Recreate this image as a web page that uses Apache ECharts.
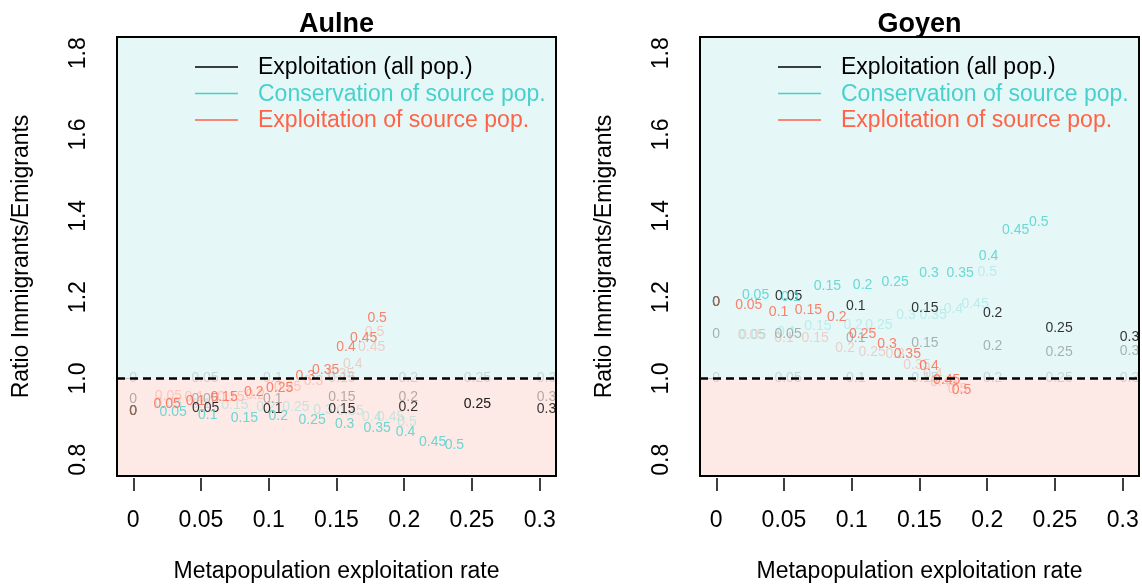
<!DOCTYPE html>
<html>
<head>
<meta charset="utf-8">
<script src="https://cdn.jsdelivr.net/npm/echarts@6/dist/echarts.min.js"></script>
<style>html,body{margin:0;padding:0;background:#fff}#c{width:1142px;height:588px}</style>
</head>
<body>
<div id="c"></div>
<script>
// ---- labels ----
const rateLabels = ['0', '0.05', '0.1', '0.15', '0.2', '0.25', '0.3'];
const sourceLabels = ['0', '0.05', '0.1', '0.15', '0.2', '0.25', '0.3', '0.35', '0.4', '0.45', '0.5'];
const sourceLabelsNoZero = ['0.05', '0.1', '0.15', '0.2', '0.25', '0.3', '0.35', '0.4', '0.45', '0.5'];
const xTicks = [0, 0.05, 0.1, 0.15, 0.2, 0.25, 0.3];
const xTickLabels = ['0', '0.05', '0.1', '0.15', '0.2', '0.25', '0.3'];
const yTicks = [0.8, 1.0, 1.2, 1.4, 1.6, 1.8];
const yTickLabels = ['0.8', '1.0', '1.2', '1.4', '1.6', '1.8'];
const panelTitles = ['Aulne', 'Goyen'];
const legendLabels = ['Exploitation (all pop.)', 'Conservation of source pop.', 'Exploitation of source pop.'];

// ---- Aulne ----
const aulneAllX  = [0, 0.0535, 0.103, 0.154, 0.203, 0.254, 0.305];
const aulneAllY  = [0.920, 0.926, 0.924, 0.924, 0.929, 0.936, 0.924];
const aulneAllBX = [0, 0.053, 0.103, 0.154, 0.203, 0.254, 0.305];
const aulneAllBY = [0.948, 0.950, 0.948, 0.953, 0.953, 0.938, 0.953];
const aulneAllCX = [0, 0.053, 0.103, 0.154, 0.203, 0.254, 0.305];
const aulneAllCY = [1.0, 1.0, 1.0, 1.0, 1.0, 1.0, 1.0];
const aulneConsX  = [0, 0.0295, 0.055, 0.082, 0.107, 0.132, 0.156, 0.180, 0.201, 0.221, 0.237];
const aulneConsY  = [0.920, 0.916, 0.910, 0.902, 0.907, 0.897, 0.887, 0.877, 0.867, 0.843, 0.835];
const aulneConsBX = [0.026, 0.050, 0.075, 0.098, 0.120, 0.140, 0.160, 0.176, 0.190, 0.202];
const aulneConsBY = [0.940, 0.937, 0.934, 0.929, 0.929, 0.921, 0.919, 0.904, 0.904, 0.893];
const aulneExplX  = [0, 0.025, 0.046, 0.067, 0.089, 0.108, 0.127, 0.142, 0.157, 0.170, 0.180];
const aulneExplY  = [0.920, 0.938, 0.943, 0.953, 0.966, 0.975, 1.005, 1.020, 1.076, 1.100, 1.148];
const aulneExplBX = [0.026, 0.045, 0.072, 0.090, 0.114, 0.133, 0.153, 0.162, 0.176, 0.178];
const aulneExplBY = [0.956, 0.955, 0.955, 0.960, 0.978, 0.993, 1.010, 1.034, 1.076, 1.115];

// ---- Goyen ----
const goyenAllX  = [0, 0.0535, 0.103, 0.154, 0.204, 0.253, 0.305];
const goyenAllY  = [1.188, 1.202, 1.177, 1.172, 1.160, 1.123, 1.101];
const goyenAllBX = [0, 0.053, 0.103, 0.154, 0.204, 0.253, 0.305];
const goyenAllBY = [1.108, 1.108, 1.100, 1.086, 1.080, 1.064, 1.066];
const goyenAllCX = [0, 0.053, 0.103, 0.154, 0.204, 0.253, 0.305];
const goyenAllCY = [1.0, 1.0, 1.0, 1.0, 1.0, 1.0, 1.0];
const goyenConsX  = [0, 0.029, 0.055, 0.082, 0.108, 0.132, 0.157, 0.180, 0.201, 0.221, 0.238];
const goyenConsY  = [1.188, 1.204, 1.200, 1.226, 1.229, 1.238, 1.258, 1.258, 1.301, 1.365, 1.384];
const goyenConsBX = [0.027, 0.052, 0.075, 0.101, 0.120, 0.140, 0.160, 0.175, 0.191, 0.200];
const goyenConsBY = [1.106, 1.115, 1.129, 1.130, 1.130, 1.155, 1.155, 1.170, 1.184, 1.261];
const goyenExplX  = [0, 0.024, 0.046, 0.068, 0.089, 0.108, 0.126, 0.141, 0.157, 0.170, 0.181];
const goyenExplY  = [1.188, 1.180, 1.162, 1.168, 1.152, 1.110, 1.084, 1.059, 1.030, 0.995, 0.971];
const goyenExplBX = [0.026, 0.050, 0.073, 0.095, 0.115, 0.132, 0.148, 0.160, 0.168, 0.178];
const goyenExplBY = [1.106, 1.098, 1.098, 1.074, 1.064, 1.059, 1.032, 1.010, 0.990, 0.973];

// ---- style ----
const FONT = '"Liberation Sans", Arial, Helvetica, sans-serif';
const C_BLACK = '#000000';
const C_GRAY_MID = 'rgba(0,0,0,0.36)';
const C_GRAY_LIGHT = 'rgba(0,0,0,0.17)';
const C_CYAN = '#48D1CC';
const C_CYAN_LIGHT = 'rgba(72,209,204,0.35)';
const C_RED = '#FF6347';
const C_RED_LIGHT = 'rgba(255,99,71,0.35)';
const C_ZERO = '#B5503C';
const BG_TOP = '#E6F7F7';
const BG_BOT = '#FDE9E6';

const grids = [
  { left: 117, top: 37, width: 439, height: 439 },
  { left: 700, top: 37, width: 439, height: 439 }
];

function pts(xs, ys, labels) { return xs.map((x, i) => [x, ys[i], labels[i]]); }

function textSeries(gi, data, color) {
  return {
    type: 'scatter', xAxisIndex: gi, yAxisIndex: gi, data: data,
    symbolSize: 1, itemStyle: { color: 'rgba(0,0,0,0)' },
    silent: true, animation: false, z: 3,
    label: {
      show: true, position: 'inside',
      formatter: p => p.value[2],
      fontSize: 14, fontFamily: FONT,
      color: color
    }
  };
}

const panels = [
  { all: pts(aulneAllX, aulneAllY, rateLabels), allB: pts(aulneAllBX, aulneAllBY, rateLabels), allC: pts(aulneAllCX, aulneAllCY, rateLabels),
    cons: pts(aulneConsX, aulneConsY, sourceLabels), consB: pts(aulneConsBX, aulneConsBY, sourceLabelsNoZero),
    expl: pts(aulneExplX, aulneExplY, sourceLabels), explB: pts(aulneExplBX, aulneExplBY, sourceLabelsNoZero) },
  { all: pts(goyenAllX, goyenAllY, rateLabels), allB: pts(goyenAllBX, goyenAllBY, rateLabels), allC: pts(goyenAllCX, goyenAllCY, rateLabels),
    cons: pts(goyenConsX, goyenConsY, sourceLabels), consB: pts(goyenConsBX, goyenConsBY, sourceLabelsNoZero),
    expl: pts(goyenExplX, goyenExplY, sourceLabels), explB: pts(goyenExplBX, goyenExplBY, sourceLabelsNoZero) }
];

const xAxes = [], yAxes = [], series = [], graphics = [];
grids.forEach((g, gi) => {
  xAxes.push({
    gridIndex: gi, type: 'value', min: -0.012, max: 0.312, offset: 2,
    axisLine: { show: false }, splitLine: { show: false },
    axisTick: { show: true, customValues: xTicks, length: 13, lineStyle: { color: '#000', width: 1.5 } },
    axisLabel: { customValues: xTicks, formatter: v => xTickLabels[xTicks.findIndex(t => Math.abs(t - v) < 1e-9)],
      fontSize: 23, fontFamily: FONT, color: '#000', margin: 31 },
    name: 'Metapopulation exploitation rate', nameLocation: 'middle', nameGap: 82,
    nameTextStyle: { fontSize: 23, fontFamily: FONT, color: '#000' }
  });
  yAxes.push({
    gridIndex: gi, type: 'value', min: 0.76, max: 1.84,
    axisLine: { show: false }, splitLine: { show: false },
    axisTick: { show: true, customValues: yTicks, length: 14, lineStyle: { color: '#000', width: 1.5 } },
    axisLabel: { customValues: yTicks, formatter: v => yTickLabels[yTicks.findIndex(t => Math.abs(t - v) < 1e-9)],
      rotate: 90, fontSize: 23, fontFamily: FONT, color: '#000', margin: 27 },
    name: 'Ratio Immigrants/Emigrants', nameLocation: 'middle', nameGap: 84,
    nameTextStyle: { fontSize: 23, fontFamily: FONT, color: '#000' }
  });
  const p = panels[gi];
  // background bands
  series.push({
    type: 'scatter', xAxisIndex: gi, yAxisIndex: gi, data: [], z: -1, silent: true,
    markArea: { silent: true, itemStyle: { borderWidth: 0 }, label: { show: false },
      data: [
        [{ yAxis: 1.0, itemStyle: { color: BG_TOP } }, { yAxis: 1.84 }],
        [{ yAxis: 0.76, itemStyle: { color: BG_BOT } }, { yAxis: 1.0 }]
      ] }
  });
  series.push(textSeries(gi, p.allC, C_GRAY_LIGHT));
  series.push(textSeries(gi, p.allB, C_GRAY_MID));
  series.push(textSeries(gi, p.consB, C_CYAN_LIGHT));
  series.push(textSeries(gi, p.explB, C_RED_LIGHT));
  const blk = textSeries(gi, p.all, C_BLACK);
  blk.markLine = { silent: true, symbol: 'none', label: { show: false },
    lineStyle: { color: '#000', type: [8, 5], width: 2.5 }, data: [{ yAxis: 1.0 }] };
  series.push(blk);
  series.push(textSeries(gi, p.cons, C_CYAN));
  const red = textSeries(gi, p.expl, C_RED);
  red.data = p.expl.map(d => d[2] === '0' ? { value: d, label: { color: C_ZERO } } : d);
  series.push(red);

  // frame
  graphics.push({ type: 'rect', z: 100, silent: true,
    shape: { x: g.left, y: g.top, width: g.width, height: g.height },
    style: { fill: null, stroke: '#000', lineWidth: 2 } });
  // title
  graphics.push({ type: 'text', z: 100, x: g.left + g.width / 2, y: 25,
    style: { text: panelTitles[gi], font: 'bold 27px ' + FONT, fill: '#000', textAlign: 'center', textVerticalAlign: 'middle', verticalAlign: 'middle', align: 'center' } });
  // legend
  const lcols = [C_BLACK, C_CYAN, C_RED];
  const lys = [68, 94.5, 121];
  lcols.forEach((c, i) => {
    graphics.push({ type: 'line', z: 100, silent: true,
      shape: { x1: g.left + 78, y1: lys[i] - 1, x2: g.left + 121, y2: lys[i] - 1 },
      style: { stroke: c, lineWidth: 1.5 } });
    graphics.push({ type: 'text', z: 100, x: g.left + 141, y: lys[i],
      style: { text: legendLabels[i], font: '23px ' + FONT, fill: c, textAlign: 'left', align: 'left', textVerticalAlign: 'middle', verticalAlign: 'middle' } });
  });
});

const chart = echarts.init(document.getElementById('c'), null, { renderer: 'canvas' });
chart.setOption({
  animation: false,
  backgroundColor: '#fff',
  grid: grids.map(g => Object.assign({ show: false, containLabel: false }, g)),
  xAxis: xAxes, yAxis: yAxes, series: series, graphic: graphics
});
</script>
</body>
</html>
